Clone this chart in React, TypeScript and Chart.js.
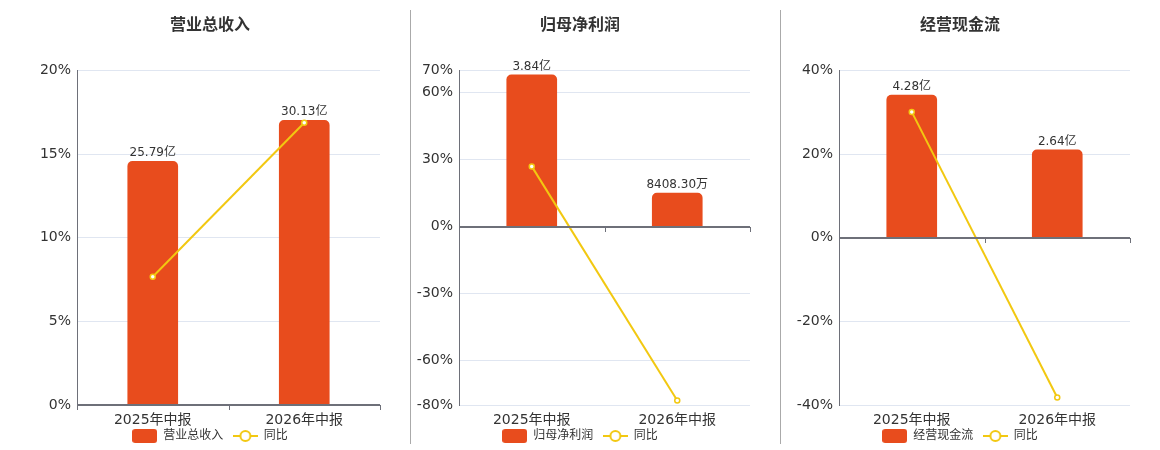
import { useEffect, useRef } from "react"
import { Chart, registerables } from "chart.js"

Chart.register(...registerables)

Chart.defaults.font.family = "'DejaVu Sans', 'Noto Sans CJK SC', sans-serif"

// data (bars in 亿, yoy in %)
const categories = ["2025年中报", "2026年中报"]
const revenue = [25.79, 30.13]
const revenueYoy = [7.67, 16.88]
const netProfit = [3.84, 0.84083]
const netProfitYoy = [27.0, -78.0]
const cashFlow = [4.28, 2.64]
const cashFlowYoy = [30.1, -38.2]

const revenueTicks = [0, 5, 10, 15, 20]
const netProfitTicks = [-80, -60, -30, 0, 30, 60, 70]
const cashFlowTicks = [-40, -20, 0, 20, 40]

// hidden value axis for the bars
const revenueBarRange = [0, 35.4]
const netProfitBarRange = [-4.53, 3.95]
const cashFlowBarRange = [-5.02, 5.02]

const BAR_COLOR = "#E84C1D"
const LINE_COLOR = "#F2C811"
const AXIS_COLOR = "#6E7079"
const TEXT_COLOR = "#333"

function fmtAmount(v: number) {
  if (Math.abs(v) >= 1) return v.toFixed(2) + "亿"
  return (v * 10000).toFixed(2) + "万"
}

function makeBarIcon() {
  const c = document.createElement("canvas")
  c.width = 25
  c.height = 14
  const ctx = c.getContext("2d")!
  ctx.fillStyle = BAR_COLOR
  ctx.beginPath()
  ctx.roundRect(0, 0, 25, 14, 3)
  ctx.fill()
  return c
}

function makeLineIcon() {
  const c = document.createElement("canvas")
  c.width = 25
  c.height = 14
  const ctx = c.getContext("2d")!
  ctx.strokeStyle = LINE_COLOR
  ctx.lineWidth = 2
  ctx.beginPath()
  ctx.moveTo(0, 7)
  ctx.lineTo(25, 7)
  ctx.stroke()
  ctx.beginPath()
  ctx.arc(12.5, 7, 5, 0, Math.PI * 2)
  ctx.fillStyle = "#fff"
  ctx.fill()
  ctx.stroke()
  return c
}

const zeroAxisPlugin = {
  id: "zeroAxis",
  afterDatasetsDraw(chart: any) {
    const { ctx, chartArea, scales } = chart
    const x = scales.x
    const y0 = Math.round(scales.y.getPixelForValue(0))
    ctx.save()
    ctx.strokeStyle = AXIS_COLOR
    ctx.lineWidth = 2
    ctx.beginPath()
    ctx.moveTo(chartArea.left, y0)
    ctx.lineTo(chartArea.right, y0)
    ctx.stroke()
    ctx.lineWidth = 1
    const n = x.getLabels().length
    ctx.beginPath()
    for (let i = 0; i <= n; i++) {
      const px = Math.round(x.getPixelForDecimal(i / n)) + 0.5
      ctx.moveTo(px, y0)
      ctx.lineTo(px, y0 + 5)
    }
    ctx.stroke()
    ctx.restore()
  },
}

const barLabelPlugin = {
  id: "barLabels",
  afterDatasetsDraw(chart: any) {
    const { ctx } = chart
    const meta = chart.getDatasetMeta(0)
    const values = chart.data.datasets[0].data
    ctx.save()
    ctx.font = "12px 'DejaVu Sans', 'Noto Sans CJK SC', sans-serif"
    ctx.fillStyle = TEXT_COLOR
    ctx.textAlign = "center"
    ctx.textBaseline = "bottom"
    meta.data.forEach((bar: any, i: number) => {
      ctx.fillText(fmtAmount(values[i]), bar.x, bar.y - 2)
    })
    ctx.restore()
  },
}

interface PanelProps {
  title: string
  seriesName: string
  values: number[]
  yoy: number[]
  ticks: number[]
  barRange: number[]
  left: number
  width: number
  axisWidth: number
  rightPad: number
}

function Panel({ title, seriesName, values, yoy, ticks, barRange, left, width, axisWidth, rightPad }: PanelProps) {
  const chartRef = useRef<HTMLCanvasElement>(null)

  useEffect(() => {
    if (!chartRef.current) return
    const barIcon = makeBarIcon()
    const lineIcon = makeLineIcon()

    const chart = new Chart(chartRef.current, {
      type: "bar",
      data: {
        labels: categories,
        datasets: [
          {
            type: "bar",
            label: seriesName,
            data: values,
            yAxisID: "y2",
            backgroundColor: BAR_COLOR,
            borderRadius: 5,
            barThickness: 50,
            order: 1,
          },
          {
            type: "line",
            label: "同比",
            data: yoy,
            yAxisID: "y",
            borderColor: LINE_COLOR,
            borderWidth: 2,
            pointRadius: 2.5,
            pointBorderWidth: 1.5,
            pointBackgroundColor: "#fff",
            pointBorderColor: LINE_COLOR,
            tension: 0,
            order: 0,
          },
        ] as any,
      },
      options: {
        animation: false,
        responsive: true,
        maintainAspectRatio: false,
        layout: { padding: { top: 0, left: 0, right: 0, bottom: -2 } },
        plugins: {
          tooltip: { enabled: false },
          title: {
            display: true,
            text: title,
            color: TEXT_COLOR,
            font: { size: 16, weight: "bold" },
            padding: { top: 16, bottom: 35.3 },
          },
          legend: {
            position: "bottom",
            labels: {
              usePointStyle: true,
              pointStyleWidth: 25,
              boxHeight: 12,
              padding: 2,
              color: TEXT_COLOR,
              font: { size: 12 },
              generateLabels: () => [
                { text: seriesName + "  ", pointStyle: barIcon, datasetIndex: 0, fontColor: TEXT_COLOR, lineWidth: 0, hidden: false } as any,
                { text: "同比", pointStyle: lineIcon, datasetIndex: 1, fontColor: TEXT_COLOR, lineWidth: 0, hidden: false } as any,
              ],
            },
          },
        },
        scales: {
          x: {
            grid: { display: false, drawTicks: false },
            border: { display: false },
            ticks: { color: TEXT_COLOR, font: { size: 14 }, padding: 7 },
            afterFit: (s: any) => {
              s.height = 23
            },
          },
          y: {
            position: "left",
            min: ticks[0],
            max: ticks[ticks.length - 1],
            grid: { color: "#E0E6F1", drawTicks: false },
            border: { display: true, color: AXIS_COLOR, width: 1 },
            ticks: {
              color: TEXT_COLOR,
              font: { size: 14 },
              padding: 6,
              callback: (v: any) => v + "%",
            },
            afterBuildTicks: (s: any) => {
              s.ticks = ticks.map((v) => ({ value: v }))
            },
            afterFit: (s: any) => {
              s.width = axisWidth
            },
          },
          // bar value axis: nothing drawn, only reserves the right margin
          y2: {
            position: "right",
            min: barRange[0],
            max: barRange[1],
            grid: { display: false, drawTicks: false },
            border: { display: false },
            ticks: { display: false },
            afterFit: (s: any) => {
              s.width = rightPad
            },
          },
        },
      },
      plugins: [zeroAxisPlugin, barLabelPlugin],
    })

    return () => {
      chart.destroy()
    }
  }, [])

  return (
    <div style={{ position: "absolute", left, top: 0, width, height: 450 }}>
      <canvas ref={chartRef} />
    </div>
  )
}

export default function App() {
  useEffect(() => {
    document.body.style.margin = "0"
  }, [])

  return (
    <div style={{ position: "relative", width: 1160, height: 450, overflow: "hidden", background: "#fff" }}>
      <Panel
        title="营业总收入"
        seriesName="营业总收入"
        values={revenue}
        yoy={revenueYoy}
        ticks={revenueTicks}
        barRange={revenueBarRange}
        left={10}
        width={400}
        axisWidth={67}
        rightPad={30}
      />
      <Panel
        title="归母净利润"
        seriesName="归母净利润"
        values={netProfit}
        yoy={netProfitYoy}
        ticks={netProfitTicks}
        barRange={netProfitBarRange}
        left={400}
        width={360}
        axisWidth={59}
        rightPad={10}
      />
      <Panel
        title="经营现金流"
        seriesName="经营现金流"
        values={cashFlow}
        yoy={cashFlowYoy}
        ticks={cashFlowTicks}
        barRange={cashFlowBarRange}
        left={780}
        width={360}
        axisWidth={59}
        rightPad={10}
      />
      <div style={{ position: "absolute", left: 410, top: 10, width: 1, height: 434, background: "#aaa" }} />
      <div style={{ position: "absolute", left: 780, top: 10, width: 1, height: 434, background: "#aaa" }} />
    </div>
  )
}
